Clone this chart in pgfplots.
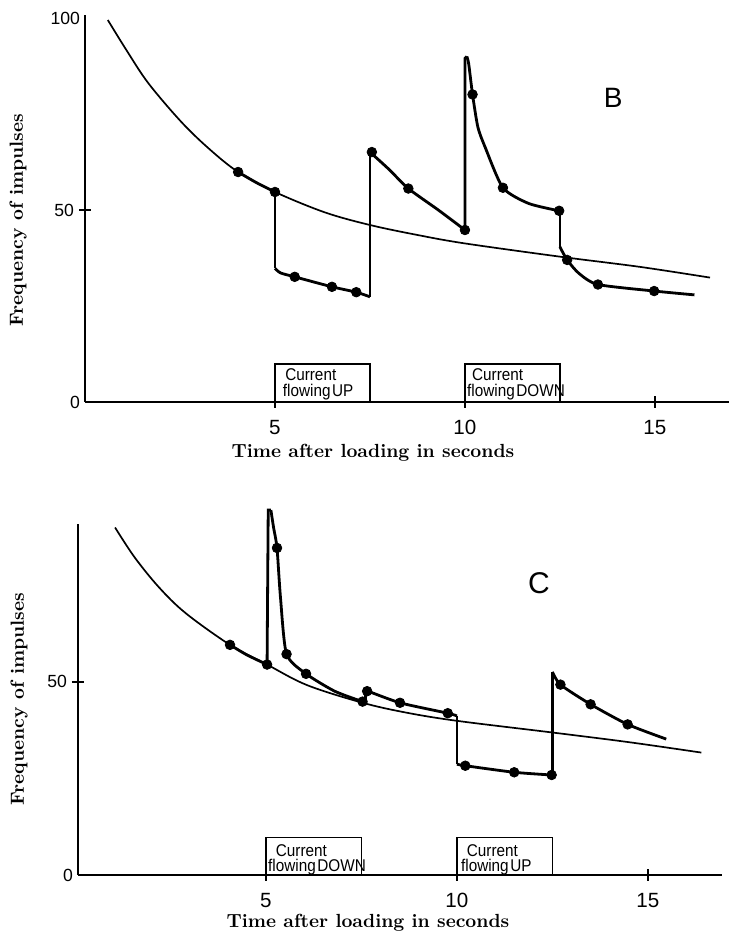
\documentclass[border=0pt]{standalone}
\usepackage{graphicx}
\usepackage{pgfplots}
\pgfplotsset{compat=1.18}
\usepackage{fontspec}
\newfontfamily\sansf{Liberation Sans}
\newcommand\boxfont{\sansf\fontsize{8.5}{9}\selectfont}
\newcommand\bx[1]{\scalebox{0.9}[1]{#1}}
\newcommand\lblfont{\bfseries\fontsize{9.5}{11}\selectfont}
\pgfplotsset{
  mystyle/.style={
    scale only axis, anchor=south west,
    axis lines=left, axis line style={line width=1.4pt,-},
    tick align=center, major tick length=6pt,
    tick style={line width=1pt,black},
    xtick={5,10,15},
    /pgf/number format/assume math mode=true,
    xticklabel style={font=\sansf\fontsize{10.3}{12}\selectfont, yshift=-2.5pt},
    yticklabel style={font=\sansf\fontsize{8.8}{10}\selectfont, xshift=1pt},
    extra y tick style={major tick length=0pt},
    clip=false,
  },
  thincurve/.style={line width=0.85pt, smooth, tension=0.55, no marks},
  thickcurve/.style={line width=1.4pt, smooth, tension=0.4, no marks},
  vline/.style={line width=1.4pt, no marks},
  dots/.style={only marks, mark=*, mark size=2.4pt},
  boxline/.style={line width=0.9pt, no marks},
}
\begin{document}
\begin{tikzpicture}[x=0.5pt,y=0.5pt]
\path[use as bounding box] (0,0) rectangle (729,938);
% ---------------- Panel B ----------------
\begin{axis}[mystyle, at={(42.5pt,268pt)}, width=322pt, height=193.5pt,
  xmin=0, xmax=16.95, ymin=0, ymax=100.8,
  ytick={50}, extra y ticks={0,100}]
\addplot[thincurve] coordinates {(0.6,99.5)(1.1,91.5)(1.67,83.0)(2.53,73.0)(3.26,66.0)(4.03,59.9)(5.0,54.7)(6.31,49.4)(7.5,46.1)(8.75,43.5)(10.0,41.3)(12.54,37.8)(14.6,35.2)(16.45,32.4)};
\addplot[thickcurve] coordinates {(4.03,59.9)(4.5,57.2)(5.0,54.7)};
\addplot[vline] coordinates {(5.0,54.7)(5.0,34.8)};
\addplot[thickcurve] coordinates {(5.0,34.8)(5.15,33.6)(5.52,32.6)(6.5,30.0)(7.14,28.6)(7.5,27.4)};
\addplot[vline] coordinates {(7.5,27.4)(7.5,65.1)};
\addplot[thickcurve] coordinates {(7.5,65.1)(8.0,60.6)(8.51,55.6)(9.3,50.0)(10.0,44.8)};
\addplot[vline] coordinates {(10.0,44.8)(10.0,89.5)(10.05,90)};
\addplot[thickcurve] coordinates {(10.05,90)(10.1,88)(10.2,80.1)(10.34,71.6)(10.53,66.4)(11.0,55.8)(11.68,51.7)(12.48,49.8)};
\addplot[vline] coordinates {(12.48,49.8)(12.5,49.8)(12.5,40.4)};
\addplot[thickcurve] coordinates {(12.5,40.4)(12.69,37.0)(13.0,33.5)(13.5,30.6)(14.98,28.9)(16.04,27.9)};
\addplot[dots] coordinates {(4.03,59.9)(5.0,54.7)(5.52,32.6)(6.5,30.0)(7.14,28.6)(7.55,65.1)(8.51,55.6)(10.0,44.8)(10.2,80.1)(11.0,55.8)(12.48,49.8)(12.69,37.0)(13.5,30.6)(14.98,28.9)};
\addplot[boxline] coordinates {(5,0)(5,9.9)(7.5,9.9)(7.5,0)};
\addplot[boxline] coordinates {(10,0)(10,9.9)(12.5,9.9)(12.5,0)};
\node[anchor=base west, font=\boxfont, inner sep=0pt] at (axis cs:5.26,5.5) {\bx{Current}};
\node[anchor=base west, font=\boxfont, inner sep=0pt] at (axis cs:5.2,1.5) {\bx{flowing\hspace{0.1em}UP}};
\node[anchor=base west, font=\boxfont, inner sep=0pt] at (axis cs:10.18,5.5) {\bx{Current}};
\node[anchor=base west, font=\boxfont, inner sep=0pt] at (axis cs:10.05,1.5) {\bx{flowing\hspace{0.1em}DOWN}};
\node[font=\sansf\fontsize{14}{16}\selectfont] at (axis cs:13.9,79.2) {B};
\end{axis}
% ---------------- Panel C ----------------
\begin{axis}[mystyle, at={(39pt,31.5pt)}, width=322pt, height=175.5pt,
  xmin=0.08, xmax=16.94, ymin=0, ymax=90.9,
  ytick={50}, extra y ticks={0}]
\addplot[thincurve] coordinates {(1.05,90)(1.56,82.3)(2.2,74.5)(2.9,67.8)(4.06,59.6)(5.03,54.5)(6.07,49.2)(7.53,44.6)(8.7,42.0)(10.02,39.9)(12.5,36.9)(14.5,34.4)(16.4,31.7)};
\addplot[thickcurve] coordinates {(4.06,59.6)(4.5,57.0)(5.03,54.5)};
\addplot[vline] coordinates {(5.03,54.5)(5.06,94.5)(5.13,94.5)};
\addplot[thickcurve] coordinates {(5.13,94.5)(5.2,90)(5.29,84.7)(5.38,72)(5.54,57.2)(6.05,52.1)(6.8,47.6)(7.53,44.9)};
\addplot[vline] coordinates {(7.53,44.9)(7.6,44.9)(7.6,47.9)};
\addplot[thickcurve] coordinates {(7.6,47.9)(8.51,44.6)(9.76,41.9)(10.0,41.2)};
\addplot[vline] coordinates {(10.0,41.2)(10.0,28.7)};
\addplot[thickcurve] coordinates {(10.0,28.7)(10.22,28.3)(11.5,26.6)(12.48,25.9)};
\addplot[vline] coordinates {(12.48,25.9)(12.5,25.9)(12.5,52.6)};
\addplot[thickcurve] coordinates {(12.5,52.6)(12.71,49.3)(13.5,44.2)(14.47,39.0)(15.48,35.2)};
\addplot[dots] coordinates {(4.06,59.6)(5.03,54.5)(5.29,84.7)(5.54,57.2)(6.05,52.1)(7.53,44.9)(7.65,47.6)(8.51,44.6)(9.76,41.9)(10.22,28.3)(11.5,26.6)(12.48,25.9)(12.71,49.3)(13.5,44.2)(14.47,39.0)};
\addplot[boxline] coordinates {(5,0)(5,9.7)(7.5,9.7)(7.5,0)};
\addplot[boxline] coordinates {(10,0)(10,9.7)(12.5,9.7)(12.5,0)};
\node[anchor=base west, font=\boxfont, inner sep=0pt] at (axis cs:5.25,4.7) {\bx{Current}};
\node[anchor=base west, font=\boxfont, inner sep=0pt] at (axis cs:5.05,0.9) {\bx{flowing\hspace{0.1em}DOWN}};
\node[anchor=base west, font=\boxfont, inner sep=0pt] at (axis cs:10.25,4.7) {\bx{Current}};
\node[anchor=base west, font=\boxfont, inner sep=0pt] at (axis cs:10.1,0.9) {\bx{flowing\hspace{0.1em}UP}};
\node[font=\sansf\fontsize{15}{17}\selectfont] at (axis cs:12.15,75.6) {C};
\end{axis}
% ---------------- Axis titles ----------------
\node[font=\lblfont] at (373,485) {Time after loading in seconds};
\node[font=\lblfont, rotate=90] at (18,718) {Frequency of impulses};
\node[font=\lblfont] at (368,15) {Time after loading in seconds};
\node[font=\lblfont, rotate=90] at (19,239) {Frequency of impulses};
\end{tikzpicture}
\end{document}
